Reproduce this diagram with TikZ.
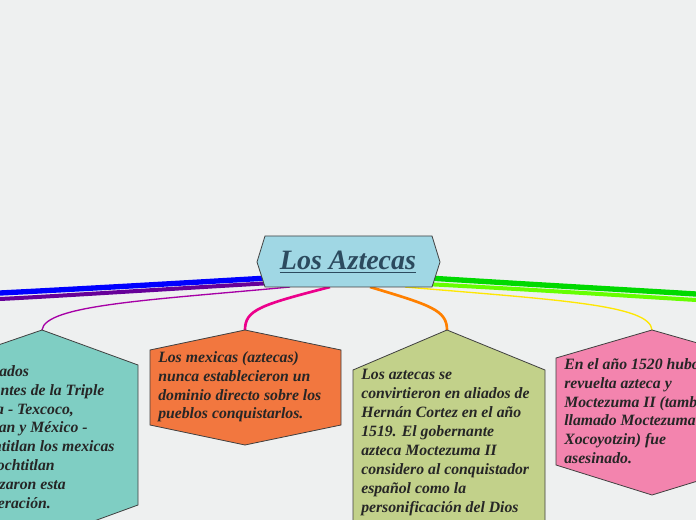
\documentclass[tikz,border=0pt]{standalone}
\usepackage{fontspec}
\setmainfont{Liberation Serif}
\usetikzlibrary{positioning}
\definecolor{bgcol}{HTML}{EEF0F0}
\definecolor{titlefill}{HTML}{A0D7E4}
\definecolor{titletext}{HTML}{2C4A5E}
\definecolor{tealfill}{HTML}{7FCEC3}
\definecolor{orangefill}{HTML}{F2773F}
\definecolor{greenfill}{HTML}{C2D18A}
\definecolor{pinkfill}{HTML}{F384AE}
\tikzset{
	hexbox/.style = {draw=black!75, line width=0.6pt},
	leaftext/.style = {anchor=north west, align=left, inner sep=0pt,
		font=\bfseries\itshape\fontsize{11.8}{14.2}\selectfont, text=black!85},
	branch/.style = {line width=1pt}
}
\begin{document}
\begin{tikzpicture}[x=0.75pt,y=-0.75pt]
\useasboundingbox (0,0) rectangle (696,520);
\clip (0,0) rectangle (696,520);
\fill[bgcol] (0,0) rectangle (696,520);
% thick branches leaving the picture
\draw[blue, line width=4pt] (268,278) .. controls (150,285) and (60,290) .. (0,293);
\draw[violet!80!blue, line width=3pt] (272,283) .. controls (150,290) and (60,296) .. (0,299);
\draw[green!85!black, line width=4pt] (428,278) .. controls (540,285) and (630,290) .. (696,294);
\draw[green!60!yellow, line width=3pt] (425,284) .. controls (540,290) and (630,296) .. (696,300);
% branches to the leaves
\coordinate (c1) at (290,287);
\coordinate (c2) at (330,287);
\coordinate (c3) at (370,287);
\coordinate (c4) at (405,287);
\coordinate (t1) at (42,330);
\coordinate (t2) at (245,330);
\coordinate (t3) at (447,330);
\coordinate (t4) at (652,330);
\draw[branch, violet!70!magenta] (c1) .. controls (150,300) and (45,305) .. (t1);
\draw[magenta, line width=2pt] (c2) .. controls (260,305) and (245,310) .. (t2);
\draw[orange, line width=2pt] (c3) .. controls (430,305) and (447,310) .. (t3);
\draw[branch, yellow!90!orange] (c4) .. controls (560,300) and (650,305) .. (t4);
% title
\draw[hexbox, fill=titlefill] (265,236) -- (432,236) -- (440,262) -- (432,287)
	-- (265,287) -- (257,262) -- cycle;
\node[font=\bfseries\itshape\fontsize{21}{24}\selectfont, text=titletext] (title)
	at (348,262) {\underline{Los Aztecas}};
% leaves
\draw[hexbox, fill=tealfill] (-60,365) -- (42,330) -- (138,365) -- (138,505) -- (42,540) -- (-60,505) -- cycle;
\node[leaftext] (teal) at (-46,365)
	{Los estados\\ integrantes de la Triple\\ Alianza - Texcoco,\\ Tlacopan y México -\\ Tenochtitlan los mexicas\\ de Tenochtitlan\\ encabezaron esta\\ confederación.};
\draw[hexbox, fill=orangefill] (150,350) -- (245,330) -- (341,350) -- (341,425) -- (245,445) -- (150,425) -- cycle;
\node[leaftext] (orange) at (158,351)
	{Los mexicas (aztecas)\\ nunca establecieron un\\ dominio directo sobre los\\ pueblos conquistarlos.};
\draw[hexbox, fill=greenfill] (353,370) -- (447,330) -- (545,370) -- (545,560) -- (353,560) -- cycle;
\node[leaftext] (green) at (361,369)
	{Los aztecas se\\ convirtieron en aliados de\\ Hernán Cortez en el año\\ 1519. El gobernante\\ azteca Moctezuma II\\ considero al conquistador\\ español como la\\ personificación del Dios\\ Quetzalcóatl.};
\draw[hexbox, fill=pinkfill] (556,358) -- (652,330) -- (750,358) -- (750,465) -- (652,495) -- (556,465) -- cycle;
\node[leaftext] (pink) at (564,358)
	{En el año 1520 hubo una\\ revuelta azteca y\\ Moctezuma II (también\\ llamado Moctezuma\\ Xocoyotzin) fue\\ asesinado.};
\end{tikzpicture}
\end{document}
